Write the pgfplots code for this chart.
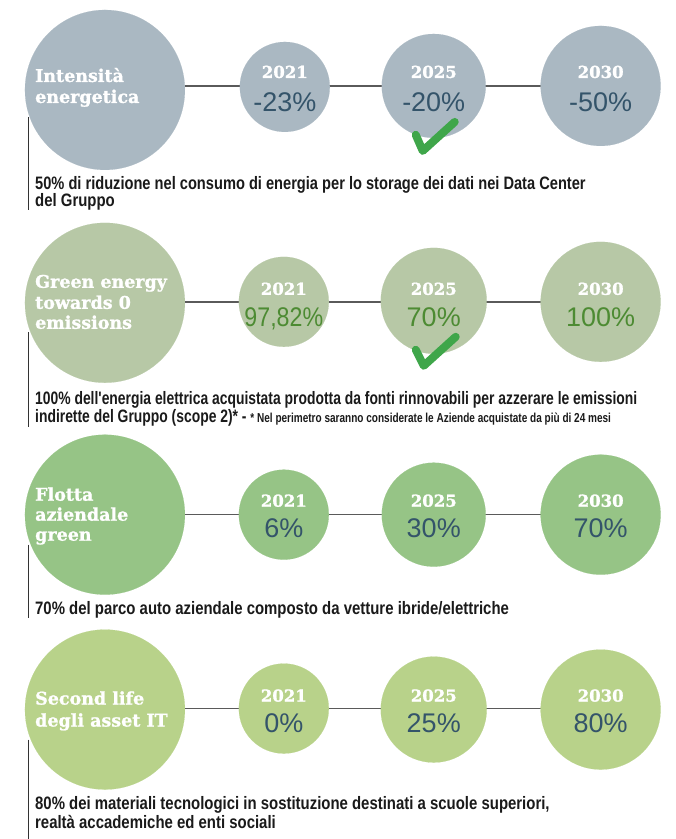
\documentclass[border=0pt]{standalone}
\usepackage{pgfplots}
\pgfplotsset{compat=1.18}
\usepackage{fontspec}
\setmainfont{Liberation Sans}
\newfontfamily\titlefont[BoldFeatures={FakeBold=1.2}]{DejaVu Serif}
\newfontfamily\descfont[FakeStretch=0.83]{Liberation Sans}
\newfontfamily\pctfont{Liberation Sans}
\definecolor{rowA}{HTML}{AAB8C2}
\definecolor{rowB}{HTML}{B7C8A6}
\definecolor{rowC}{HTML}{96C486}
\definecolor{rowD}{HTML}{B8D28A}
\definecolor{pctdark}{HTML}{34546A}
\definecolor{pctgreen}{HTML}{4D8B33}
\definecolor{checkgreen}{HTML}{3FA64A}
\definecolor{linecol}{HTML}{5A5A5A}
\definecolor{rulecol}{HTML}{333333}
\definecolor{desccol}{HTML}{1A1A1A}
\newcommand{\TTfont}{\titlefont\bfseries\fontsize{17.5}{21}\selectfont}
\newcommand{\YYfont}{\titlefont\bfseries\fontsize{16.5}{17}\selectfont}
\newcommand{\PPfont}{\pctfont\fontsize{27}{27}\selectfont}
\newcommand{\DDfont}{\descfont\bfseries\fontsize{18}{18}\selectfont}
\newcommand{\SMfont}{\descfont\bfseries\fontsize{13}{13}\selectfont}
\pgfplotsset{bubble/.style={scatter, only marks, mark=*, scatter src=explicit,
  scatter/use mapped color={draw=#1,fill=#1,line width=0.1pt},
  visualization depends on={\thisrow{r}\as\rad},
  scatter/@pre marker code/.append style={/tikz/mark size=\rad pt}}}
\begin{document}
\begin{tikzpicture}
\begin{axis}[width=676pt,height=839pt,scale only axis,enlargelimits=false,
  xmin=0,xmax=676,ymin=0,ymax=839,y dir=reverse,hide axis,clip=false,
  set layers, mark layer=axis grid]
\addplot[draw=none] coordinates {(0,0) (676,839)};
% vertical rules
\addplot[rulecol, line width=1pt, on layer=axis background] coordinates {(29,117) (29,210)};
\addplot[rulecol, line width=1pt, on layer=axis background] coordinates {(29,332) (29,427)};
\addplot[rulecol, line width=1pt, on layer=axis background] coordinates {(29,545) (29,618)};
\addplot[rulecol, line width=1pt, on layer=axis background] coordinates {(29,740) (29,839)};
% connectors
\addplot[linecol, line width=1.4pt, on layer=axis background] coordinates {(185,86) (541,86)};
\addplot[linecol, line width=1.4pt, on layer=axis background] coordinates {(185,302) (541,302)};
\addplot[linecol, line width=1.4pt, on layer=axis background] coordinates {(185,515) (541,515)};
\addplot[linecol, line width=1.4pt, on layer=axis background] coordinates {(185,709) (541,709)};
% circles
\addplot[bubble=rowA] table[x=x,y=y,meta=r]{
x y r
105 90 80
285 87 45
434 86 52
601 86 60
};
\addplot[bubble=rowB] table[x=x,y=y,meta=r]{
x y r
105 303 80
284 302 45
434 301 53
601 302 60
};
\addplot[bubble=rowC] table[x=x,y=y,meta=r]{
x y r
105 515 80
284 515 45
434 515 52
601 515 60
};
\addplot[bubble=rowD] table[x=x,y=y,meta=r]{
x y r
105 710 80
284 709 45
434 710 53
601 710 60
};
% check marks
\addplot[checkgreen, line width=8pt, line cap=round, line join=round] coordinates {(416,135) (423,151) (455,122)};
\addplot[checkgreen, line width=8pt, line cap=round, line join=round] coordinates {(416,350) (424,366) (456,337)};
% titles
\node[anchor=base west, inner sep=0pt, text=white, font=\TTfont] at (axis cs:35,82) {Intensità};
\node[anchor=base west, inner sep=0pt, text=white, font=\TTfont] at (axis cs:35,103) {energetica};
\node[anchor=base west, inner sep=0pt, text=white, font=\TTfont] at (axis cs:35,288) {Green energy};
\node[anchor=base west, inner sep=0pt, text=white, font=\TTfont] at (axis cs:35,309) {towards 0};
\node[anchor=base west, inner sep=0pt, text=white, font=\TTfont] at (axis cs:35,329) {emissions};
\node[anchor=base west, inner sep=0pt, text=white, font=\TTfont] at (axis cs:35,501) {Flotta};
\node[anchor=base west, inner sep=0pt, text=white, font=\TTfont] at (axis cs:35,521) {aziendale};
\node[anchor=base west, inner sep=0pt, text=white, font=\TTfont] at (axis cs:35,541) {green};
\node[anchor=base west, inner sep=0pt, text=white, font=\TTfont] at (axis cs:35,705) {Second life};
\node[anchor=base west, inner sep=0pt, text=white, font=\TTfont] at (axis cs:35,727) {degli asset IT};
% years
\node[anchor=base, text=white, font=\YYfont] at (axis cs:285,78) {2021};
\node[anchor=base, text=white, font=\YYfont] at (axis cs:434,78) {2025};
\node[anchor=base, text=white, font=\YYfont] at (axis cs:601,78) {2030};
\node[anchor=base, text=white, font=\YYfont] at (axis cs:284,295) {2021};
\node[anchor=base, text=white, font=\YYfont] at (axis cs:434,295) {2025};
\node[anchor=base, text=white, font=\YYfont] at (axis cs:601,295) {2030};
\node[anchor=base, text=white, font=\YYfont] at (axis cs:284,507) {2021};
\node[anchor=base, text=white, font=\YYfont] at (axis cs:434,507) {2025};
\node[anchor=base, text=white, font=\YYfont] at (axis cs:601,507) {2030};
\node[anchor=base, text=white, font=\YYfont] at (axis cs:284,702) {2021};
\node[anchor=base, text=white, font=\YYfont] at (axis cs:434,702) {2025};
\node[anchor=base, text=white, font=\YYfont] at (axis cs:601,702) {2030};
% percentages
\node[anchor=base, text=pctdark, font=\PPfont] at (axis cs:285,112) {-23\%};
\node[anchor=base, text=pctdark, font=\PPfont] at (axis cs:434,112) {-20\%};
\node[anchor=base, text=pctdark, font=\PPfont] at (axis cs:601,112) {-50\%};
\node[anchor=base, text=pctgreen, font=\PPfont] at (axis cs:284,327) {\scalebox{0.86}[1]{97,82\%}};
\node[anchor=base, text=pctgreen, font=\PPfont] at (axis cs:434,327) {70\%};
\node[anchor=base, text=pctgreen, font=\PPfont] at (axis cs:601,327) {100\%};
\node[anchor=base, text=pctdark, font=\PPfont] at (axis cs:284,538) {6\%};
\node[anchor=base, text=pctdark, font=\PPfont] at (axis cs:434,538) {30\%};
\node[anchor=base, text=pctdark, font=\PPfont] at (axis cs:601,538) {70\%};
\node[anchor=base, text=pctdark, font=\PPfont] at (axis cs:284,733) {0\%};
\node[anchor=base, text=pctdark, font=\PPfont] at (axis cs:434,733) {25\%};
\node[anchor=base, text=pctdark, font=\PPfont] at (axis cs:601,733) {80\%};
% descriptions
\node[anchor=base west, inner sep=0pt, text=desccol, font=\DDfont] at (axis cs:35,190) {\scalebox{0.98}[1]{50\% di riduzione nel consumo di energia per lo storage dei dati nei Data Center}};
\node[anchor=base west, inner sep=0pt, text=desccol, font=\DDfont] at (axis cs:35,207) {del Gruppo};
\node[anchor=base west, inner sep=0pt, text=desccol, font=\DDfont] at (axis cs:35,405) {\scalebox{0.93}[1]{100\% dell'energia elettrica acquistata prodotta da fonti rinnovabili per azzerare le emissioni}};
\node[anchor=base west, inner sep=0pt, text=desccol, font=\DDfont] at (axis cs:35,423) {\scalebox{0.93}[1]{indirette del Gruppo (scope 2)* - {\SMfont * Nel perimetro saranno considerate le Aziende acquistate da più di 24 mesi}}};
\node[anchor=base west, inner sep=0pt, text=desccol, font=\DDfont] at (axis cs:35,615) {70\% del parco auto aziendale composto da vetture ibride/elettriche};
\node[anchor=base west, inner sep=0pt, text=desccol, font=\DDfont] at (axis cs:35,810) {80\% dei materiali tecnologici in sostituzione destinati a scuole superiori,};
\node[anchor=base west, inner sep=0pt, text=desccol, font=\DDfont] at (axis cs:35,829) {realtà accademiche ed enti sociali};
\end{axis}
\end{tikzpicture}
\end{document}
